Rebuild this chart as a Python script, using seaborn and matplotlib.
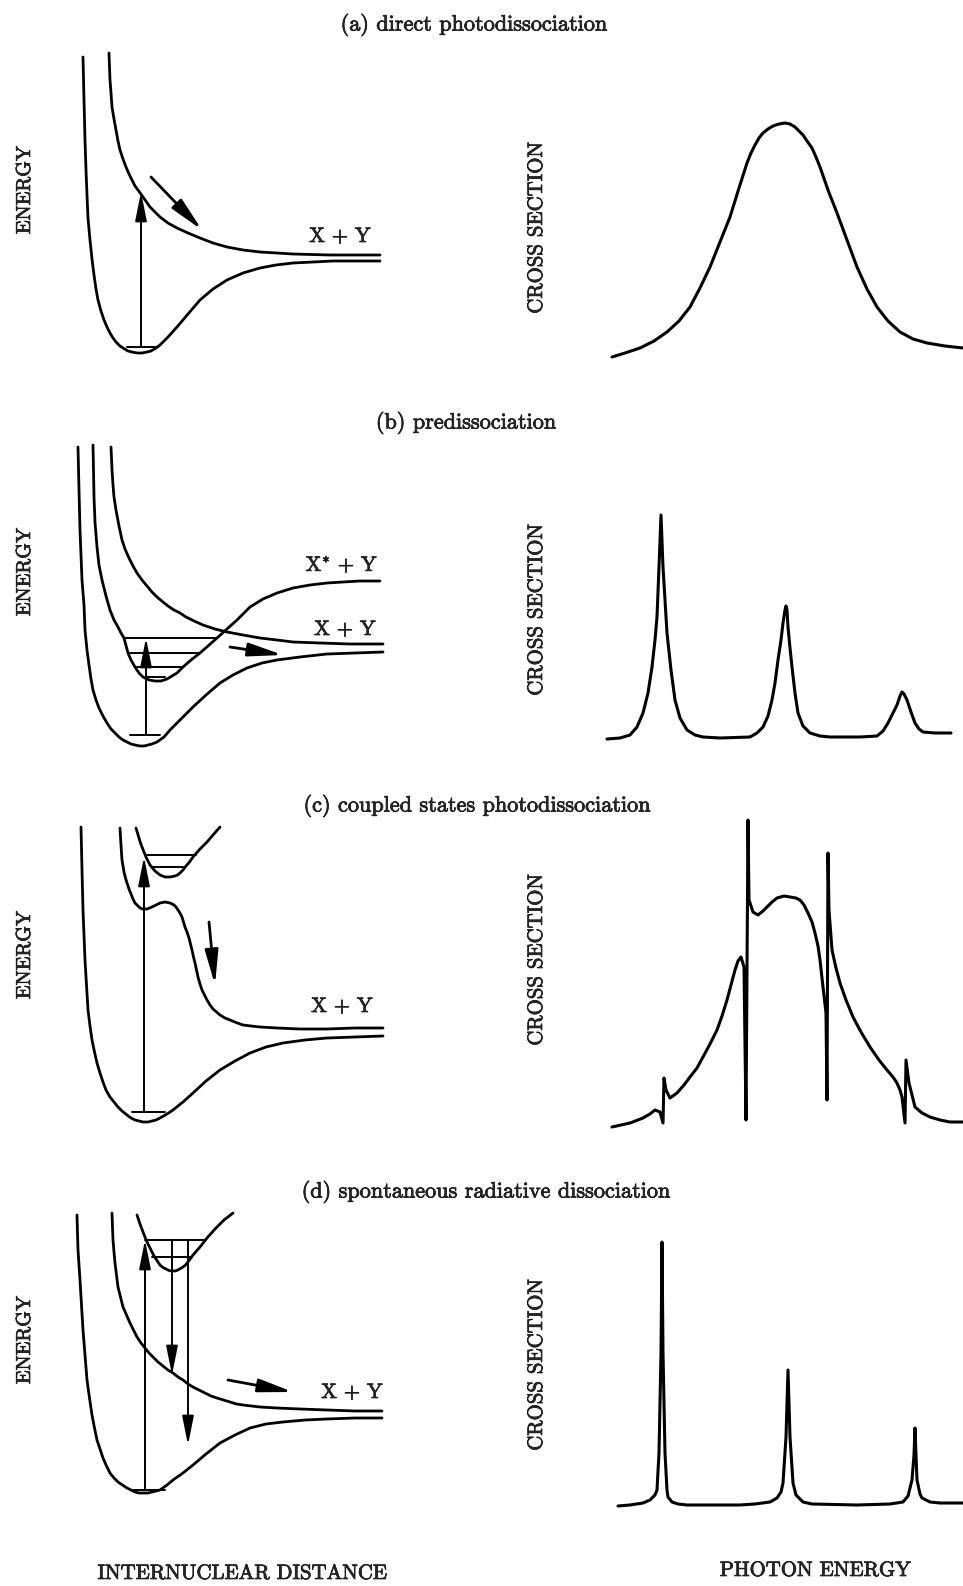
import matplotlib
matplotlib.use("Agg")
import matplotlib.pyplot as plt
import matplotlib.patheffects as pe
import pandas as pd
import seaborn as sns

# ---------------------------------------------------------------
# Data (pixel units, y grows down)
# ---------------------------------------------------------------

# (a) direct photodissociation - potential curves
a_ground_x = [83, 84, 85, 86, 87, 88, 90, 92, 94, 96, 98, 101, 104, 107, 110, 113, 116, 120, 123, 128,
              132, 137, 142, 147, 151, 156, 160, 168, 177, 188, 200, 213, 227, 243, 260, 276, 293,
              313, 333, 356, 380]
a_ground_y = [57, 100, 140, 170, 195, 218, 240, 259, 275, 289, 300, 311, 320, 327, 333, 338, 342, 346,
              348, 351, 352, 353, 353, 352, 351, 348, 345, 337, 327, 314, 300, 289, 280, 273, 268, 265,
              263, 262, 261, 261, 261]
a_rep_x = [109, 109.5, 110, 111, 112, 114, 116, 118, 120, 123, 126, 129, 132, 135, 138, 143, 150, 160,
           168, 177, 188, 200, 213, 227, 243, 260, 277, 293, 330, 380]
a_rep_y = [53, 67, 80, 93, 107, 119, 130, 141, 150, 159, 167, 174, 180, 186, 190, 197, 207, 217, 223,
           228, 233, 238, 243, 247, 250, 252, 253, 254, 255, 255]

# (b) predissociation - potential curves
b_ground_x = [78, 79, 80, 81, 82, 84, 85, 87, 89, 91, 93, 96, 99, 103, 107, 111, 115, 119, 123, 127,
              131, 135, 140, 144, 148, 152, 157, 164, 170, 180, 193, 206, 220, 233, 247, 262, 277,
              300, 327, 355, 383]
b_ground_y = [447, 490, 530, 555, 580, 605, 630, 650, 665, 679, 690, 700, 708, 716, 723, 729, 733, 737,
              740, 742, 744, 745, 746, 746, 745, 744, 742, 737, 730, 720, 707, 695, 683, 675, 668, 663,
              660, 657, 654, 653, 652]
b_bound_x = [93, 93.5, 94, 95, 97, 99, 102, 106, 110, 114, 118, 121, 124, 128, 131, 135, 139, 143, 149,
             155, 161, 167, 172, 177, 183, 191, 200, 208, 217, 227, 237, 250, 263, 277, 293, 310, 327,
             343, 360, 380]
b_bound_y = [445, 470, 497, 522, 547, 565, 580, 596, 610, 620, 627, 633, 638, 653, 660, 667, 673, 677,
             680, 681, 681, 679, 676, 673, 667, 660, 653, 646, 638, 629, 620, 607, 599, 593, 588, 585,
             583, 582, 581, 581]
b_rep_x = [111, 111.5, 112, 113, 114, 116, 119, 122, 125, 129, 133, 137, 142, 147, 152, 157, 163, 168,
           174, 180, 186, 192, 203, 215, 227, 243, 260, 277, 293, 320, 350, 383]
b_rep_y = [447, 458, 470, 485, 497, 510, 526, 540, 549, 558, 566, 573, 580, 586, 592, 597, 602, 606,
           610, 613, 617, 620, 625, 629, 632, 635, 638, 640, 642, 643, 644, 644]

# (c) coupled states photodissociation - potential curves
c_ground_x = [81, 81.5, 82, 82.5, 83, 84, 85, 86.5, 88, 90, 92, 94.5, 97, 100, 103, 106, 110, 114, 118,
              122, 127, 131, 135, 139, 143, 148, 152, 156, 160, 167, 173, 183, 193, 206, 220, 235,
              250, 266, 283, 305, 327, 355, 383]
c_ground_y = [827, 848, 870, 890, 910, 935, 960, 985, 1010, 1026, 1040, 1052, 1063, 1073, 1082, 1090,
              1097, 1102, 1107, 1111, 1115, 1118, 1120, 1121, 1122, 1122, 1121, 1120, 1118, 1114, 1110,
              1102, 1093, 1081, 1070, 1061, 1053, 1047, 1043, 1040, 1038, 1037, 1036]
c_rep_x = [120, 120.5, 121, 121.5, 122, 123, 124, 125.5, 127, 129, 131, 133, 135, 137, 139, 141, 143,
           145, 147, 149.5, 152, 154, 156, 158, 160, 162.5, 165, 167.5, 170, 172, 174, 176, 178, 180,
           182, 183.5, 185, 187, 189, 190.5, 192, 193.5, 195, 196.5, 198, 200, 202, 204.5, 207, 210,
           213, 216.5, 220, 225, 230, 236, 243, 251, 260, 277, 300, 327, 355, 383]
c_rep_y = [828, 837, 845, 853, 860, 866, 872, 878, 883, 889, 894, 899, 903, 905, 907, 908.5, 909, 909,
           909, 908, 907, 906, 905, 904, 903, 902.5, 902, 902.5, 903, 904, 905, 907, 910, 913, 917,
           922, 927, 932, 938, 944, 950, 957, 963, 970, 977, 984, 990, 995, 1000, 1005, 1009, 1012,
           1015, 1018, 1020, 1022.5, 1025, 1026, 1027, 1028, 1029, 1029, 1028, 1028]
c_upper_x = [136, 137.5, 139, 140.5, 142, 144, 146, 148, 150, 152.5, 155, 157.5, 160, 162.5, 165, 167.5,
             170, 172.5, 175, 177.5, 180, 183, 186, 189.5, 193, 196.5, 200, 203.5, 207, 210, 213, 216.5,
             220]
c_upper_y = [828, 833, 838, 843, 847, 852, 857, 861, 865, 868, 871, 873, 875, 876, 877, 877, 877, 876.5,
             876, 875, 873, 870, 866, 862, 857, 853, 849, 845.5, 842, 838.5, 835, 831, 827]

# (d) spontaneous radiative dissociation - potential curves
d_ground_x = [77, 77.5, 78, 79, 80, 81.5, 83, 85, 87, 89.5, 92, 94.5, 97, 100, 103, 106.5, 110, 114,
              118, 122.5, 127, 131, 135, 139, 143, 148, 152, 156, 160, 167, 173, 183, 193, 206, 220,
              235, 250, 266, 283, 305, 327, 355, 382]
d_ground_y = [1215, 1233, 1250, 1265, 1280, 1305, 1330, 1355, 1380, 1398, 1415, 1428, 1440, 1449, 1458,
              1466, 1473, 1478, 1482, 1485, 1488, 1490, 1492, 1493, 1493, 1493, 1492, 1491, 1490,
              1485, 1480, 1473, 1465, 1454, 1443, 1435, 1428, 1424, 1422, 1420, 1419, 1418, 1418]
d_rep_x = [112, 112.5, 113, 114, 115, 116.5, 118, 120.5, 123, 126.5, 130, 133.5, 137, 141, 145, 149,
           153, 158, 163, 168, 173, 178, 183, 188, 193, 199, 205, 211, 217, 223.5, 230, 236.5, 243,
           251.5, 260, 277, 300, 327, 355, 382]
d_rep_y = [1213, 1227, 1240, 1252, 1263, 1275, 1287, 1297, 1307, 1315, 1323, 1330, 1337, 1343, 1348,
           1353, 1357, 1362, 1366, 1370, 1373, 1377, 1380, 1384, 1387, 1390, 1393, 1396, 1398, 1400,
           1402, 1404, 1405, 1406, 1407, 1408, 1409, 1410, 1411, 1411]
d_upper_x = [137, 138.5, 140, 141.5, 143, 145, 147, 149.5, 152, 154, 156, 158, 160, 163, 166, 169, 172,
             175, 178, 180.5, 183, 185.5, 188, 190.5, 193, 196.5, 200, 203.5, 207, 211, 215, 219.5, 224,
             228.5, 233]
d_upper_y = [1215, 1219.5, 1224, 1228, 1232, 1237, 1242, 1247, 1252, 1256, 1259, 1262, 1265, 1267.5,
             1269, 1270.5, 1271, 1271, 1270, 1268.5, 1267, 1265, 1262, 1258.5, 1255, 1251, 1247, 1242.5,
             1238, 1233.5, 1229, 1224.5, 1220, 1216.5, 1213]

# vibrational levels: (x_left, x_right, y)
levels = [
    (127, 158, 347),
    (124, 217, 638), (128, 200, 653), (135, 183, 667), (147, 165, 677), (130, 160, 735),
    (145, 196, 855), (152, 183, 867), (132, 165, 1112),
    (145, 206, 1240), (152, 192, 1257), (132, 165, 1490),
]

# arrows: (x_start, y_start, x_end, y_end)
arrows_main = [
    (141, 347, 141, 192), (146, 735, 146, 638), (144, 1112, 144, 857),
    (145, 1490, 145, 1240), (172, 1240, 172, 1375), (188, 1240, 188, 1445),
]
arrows_motion = [
    (151, 177, 202, 230), (230, 647, 283, 655), (209, 922, 215, 985), (228, 1380, 293, 1392),
]

# cross sections
sa_x = [612, 625, 640, 654, 667, 679, 690, 700, 710, 720, 730, 739, 747, 751, 755, 759, 763, 768, 773,
        779, 785, 790, 795, 799, 803, 807, 812, 816, 820, 828, 837, 847, 857, 867, 877, 888, 900, 913,
        927, 945, 963]
sa_y = [357, 353, 348, 341, 332, 321, 307, 288, 267, 242, 217, 188, 163, 153, 145, 138, 133, 129, 126,
        124, 123, 124, 127, 131, 135, 141, 148, 157, 167, 190, 213, 240, 267, 289, 307, 321, 332, 339,
        343, 346, 348]

sb_x = [607, 620, 630, 637, 643, 648, 652, 655, 657, 659, 661, 663, 665, 667, 671, 675, 680, 687, 695,
        703, 720, 750, 757, 763, 768, 772, 775, 778, 781, 783, 785, 786, 787, 788, 790, 792, 795, 798,
        803, 810, 820, 830, 860, 877, 883, 888, 893, 897, 900, 902, 904, 907, 911, 915, 919, 923, 935,
        951]
sb_y = [739, 738, 735, 727, 713, 693, 667, 640, 617, 567, 515, 567, 600, 633, 670, 700, 718, 730, 735,
        737, 738, 737, 733, 727, 716, 700, 683, 660, 640, 623, 610, 606, 610, 627, 648, 667, 693, 713,
        726, 733, 736, 737, 737, 736, 731, 723, 713, 705, 696, 692, 694, 700, 712, 723, 729, 732, 733,
        733]

sc_x = [612, 630, 643, 650, 655, 660, 663, 664, 666, 670, 677, 684, 690, 697, 703, 710, 717, 722, 727,
        731, 735, 738, 741, 744, 746, 748, 749, 753, 758, 763, 767, 772, 777, 784, 790, 796, 800, 804,
        808, 812, 815, 818, 820, 823, 826, 827, 828, 829, 832, 836, 840, 846, 853, 861, 870, 879, 887,
        893, 897, 900, 902, 905, 906, 909, 915, 922, 930, 940, 950, 963]
sc_y = [1127, 1123, 1118, 1114, 1110, 1112, 1123, 1078, 1090, 1098, 1093, 1085, 1077, 1068, 1057,
        1044, 1030, 1016, 1000, 985, 970, 961, 957, 967, 1120, 820, 900, 912, 915, 911, 907, 902, 898,
        896, 897, 898, 900, 905, 913, 922, 933, 946, 960, 987, 1013, 1100, 853, 910, 950, 968, 983,
        1000, 1017, 1032, 1047, 1060, 1070, 1077, 1083, 1090, 1097, 1123, 1060, 1083, 1107, 1113,
        1117, 1120, 1122, 1122]

sd_x = [618, 630, 643, 650, 655, 657, 659, 661, 662, 663, 665, 667, 668, 672, 678, 687, 710, 740, 755,
        770, 777, 781, 783, 786, 788, 790, 793, 796, 803, 812, 857, 890, 903, 908, 912, 914, 915, 916,
        917, 920, 922, 930, 940, 963]
sd_y = [1506, 1505, 1503, 1500, 1495, 1490, 1453, 1353, 1242, 1353, 1453, 1490, 1497, 1502, 1504,
        1505, 1505, 1505, 1504, 1502, 1498, 1492, 1483, 1437, 1370, 1437, 1483, 1495, 1502, 1504,
        1505, 1504, 1502, 1496, 1480, 1455, 1428, 1455, 1480, 1494, 1498, 1502, 1503, 1503]

potential_curves = {
    "a_ground": (a_ground_x, a_ground_y), "a_rep": (a_rep_x, a_rep_y),
    "b_ground": (b_ground_x, b_ground_y), "b_bound": (b_bound_x, b_bound_y), "b_rep": (b_rep_x, b_rep_y),
    "c_ground": (c_ground_x, c_ground_y), "c_rep": (c_rep_x, c_rep_y), "c_upper": (c_upper_x, c_upper_y),
    "d_ground": (d_ground_x, d_ground_y), "d_rep": (d_rep_x, d_rep_y), "d_upper": (d_upper_x, d_upper_y),
}
spectra = {"sa": (sa_x, sa_y), "sb": (sb_x, sb_y), "sc": (sc_x, sc_y), "sd": (sd_x, sd_y)}

titles = ["(a) direct photodissociation", "(b) predissociation",
          "(c) coupled states photodissociation", "(d) spontaneous radiative dissociation"]
title_pos = [(474, 25), (466, 423), (477, 806), (486, 1192)]
energy_y = [190, 572, 955, 1340]
cross_y = [228, 610, 960, 1365]
asym_labels = [("X + Y", 340, 237), (r"X$^{*}$ + Y", 342, 565), ("X + Y", 345, 630),
               ("X + Y", 342, 1007), ("X + Y", 352, 1393)]


def to_frame(curves):
    rows = []
    for name, (xs, ys) in curves.items():
        for i, (x, y) in enumerate(zip(xs, ys)):
            rows.append((name, i, x, y))
    return pd.DataFrame(rows, columns=["curve", "order", "x", "y"])


sns.set_theme(style="white")
plt.rcParams["font.family"] = ["cmr10", "DejaVu Serif"]
plt.rcParams["mathtext.fontset"] = "cm"
plt.rcParams["axes.formatter.use_mathtext"] = True

fig = plt.figure(figsize=(9.63, 15.86), dpi=100)
ax = fig.add_axes([0, 0, 1, 1])

# potential energy curves
sns.lineplot(data=to_frame(potential_curves), x="x", y="y", units="curve", estimator=None,
             sort=False, color="black", lw=2.0, ax=ax, legend=False)

# cross section curves
sns.lineplot(data=to_frame(spectra), x="x", y="y", units="curve", estimator=None,
             sort=False, color="black", lw=2.2, ax=ax, legend=False)

# vibrational levels
lev = {f"lev{i}": ([l[0], l[1]], [l[2], l[2]]) for i, l in enumerate(levels)}
sns.lineplot(data=to_frame(lev), x="x", y="y", units="curve", estimator=None,
             sort=False, color="black", lw=1.4, ax=ax, legend=False)

# arrows
for x0, y0, x1, y1 in arrows_main:
    ax.annotate("", xy=(x1, y1), xytext=(x0, y0),
                arrowprops=dict(arrowstyle="-|>,head_length=1.1,head_width=0.22", mutation_scale=16,
                                lw=1.4, color="black", shrinkA=0, shrinkB=0))
for x0, y0, x1, y1 in arrows_motion:
    ax.annotate("", xy=(x1, y1), xytext=(x0, y0),
                arrowprops=dict(arrowstyle="-|>,head_length=1.3,head_width=0.25", mutation_scale=16,
                                lw=2.0, color="black", shrinkA=0, shrinkB=0))

# text (slight stroke to mimic the heavier printed type)
bold = [pe.withStroke(linewidth=0.5, foreground="black")]
for t, (x, y) in zip(titles, title_pos):
    ax.text(x, y, t, ha="center", va="center", fontsize=16, path_effects=bold)
for y in energy_y:
    ax.text(25, y, "ENERGY", ha="center", va="center", rotation=90, fontsize=14.5, path_effects=bold)
for y in cross_y:
    ax.text(537, y, "CROSS SECTION", ha="center", va="center", rotation=90, fontsize=15,
            path_effects=bold)
for t, x, y in asym_labels:
    ax.text(x, y, t, ha="center", va="center", fontsize=15, path_effects=bold)
ax.text(242, 1574, "INTERNUCLEAR DISTANCE", ha="center", va="center", fontsize=15, path_effects=bold)
ax.text(815, 1571, "PHOTON ENERGY", ha="center", va="center", fontsize=15, path_effects=bold)

ax.set_xlim(0, 963)
ax.set_ylim(1586, 0)
ax.axis("off")

fig.savefig("out.png", dpi=100)
